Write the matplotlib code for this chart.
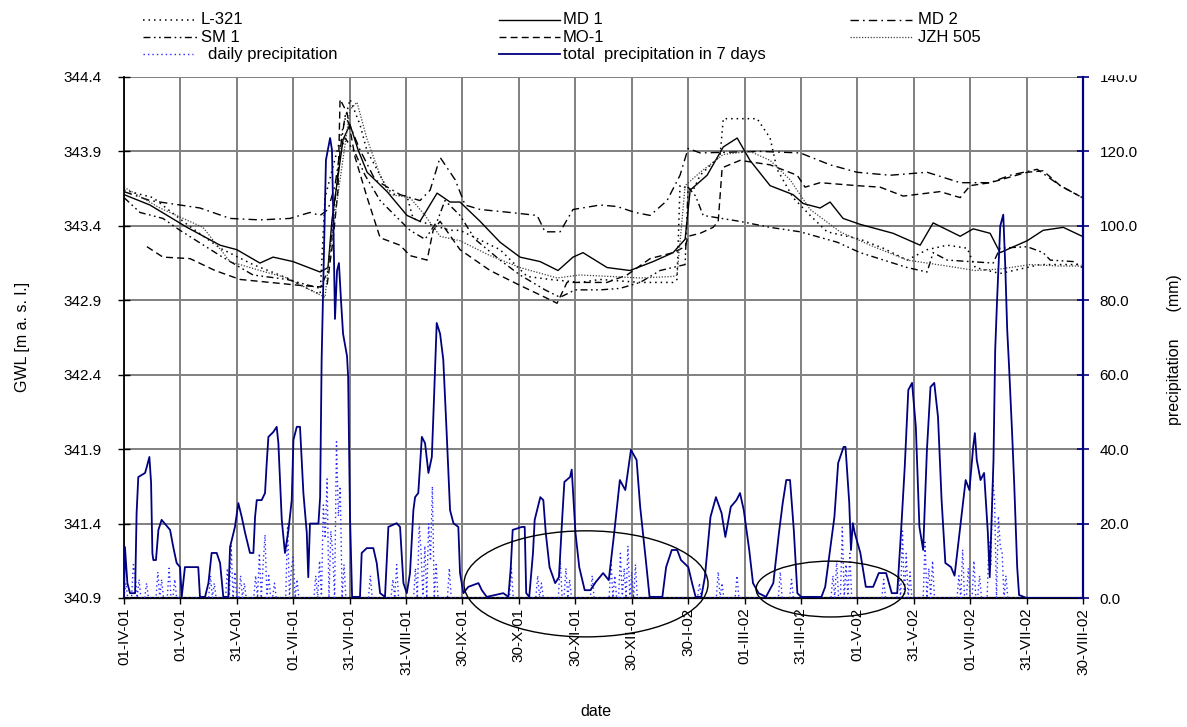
import matplotlib
matplotlib.use("Agg")
import matplotlib.pyplot as plt
import numpy as np
from matplotlib.lines import Line2D
from matplotlib.patches import Ellipse, Rectangle

plt.rcParams["font.family"] = ["Liberation Sans", "DejaVu Sans"]

W, H = 1187, 727
FS = 11

# x axis: days since 01-IV-01, one labelled tick every 30 days
date_labels = ["01-IV-01", "01-V-01", "31-V-01", "01-VII-01", "31-VII-01", "31-VIII-01",
               "30-IX-01", "30-X-01", "30-XI-01", "30-XII-01", "30-I-02", "01-III-02",
               "31-III-02", "01-V-02", "31-V-02", "01-VII-02", "31-VII-02", "30-VIII-02"]
gwl_ticks = [340.9, 341.4, 341.9, 342.4, 342.9, 343.4, 343.9, 344.4]
precip_ticks = [0, 20, 40, 60, 80, 100, 120, 140]

# groundwater levels (day, m a.s.l.)
L321 = [(0, 343.64), (15.4, 343.59), (33.5, 343.41), (51.1, 343.25), (68.6, 343.14), (86.7, 343.05),
        (97.3, 342.98), (104.3, 342.94), (106.9, 343.59), (114.9, 343.98), (120.2, 344.25),
        (125.5, 344.08), (129.3, 343.90), (132.4, 343.83), (139.9, 343.65), (144, 343.61),
        (150.5, 343.60), (153.7, 343.45), (157.4, 343.43), (173.4, 343.37), (178.7, 343.37),
        (200, 343.24), (214.4, 343.06), (226.6, 343.04), (242.5, 343.02), (253.2, 343.04),
        (274.5, 343.02), (292, 343.02), (294.1, 343.04), (295.7, 343.67), (302.7, 343.64),
        (306.4, 343.74), (317, 343.87), (318.7, 344.12), (336.7, 344.12), (343.6, 343.99),
        (347.3, 343.78), (355.8, 343.59), (364.9, 343.47), (373.9, 343.36), (391.5, 343.31),
        (403.7, 343.25), (416.5, 343.17), (427.1, 343.24), (437.8, 343.27), (448.4, 343.25),
        (452.7, 343.12), (465.9, 343.08), (487.2, 343.14), (509.6, 343.14)]

SM1 = [(0, 343.59), (8.5, 343.49), (20.7, 343.45), (29.8, 343.37), (51.1, 343.20), (68.6, 343.07),
       (86.7, 343.04), (104.3, 342.98), (108.5, 343.10), (112.2, 343.57), (114.9, 343.90),
       (117.6, 343.99), (122.9, 343.89), (128.2, 343.74), (136.2, 343.57), (144.1, 343.47),
       (152.1, 343.37), (160.1, 343.31), (166.5, 343.43), (170.7, 343.57), (178.7, 343.47),
       (186.7, 343.31), (200, 343.17), (210.6, 343.07), (223.9, 342.97), (231.9, 342.92),
       (239.9, 342.97), (253.2, 342.97), (263.8, 342.98), (274.5, 343.02), (285.1, 343.10),
       (298.4, 343.14), (300, 343.66), (304, 343.60), (308, 343.47), (327.6, 343.43),
       (343.6, 343.39), (359.6, 343.36), (379.3, 343.29), (391.5, 343.22), (416.5, 343.12),
       (427.1, 343.09), (430.3, 343.22), (437.8, 343.17), (462.2, 343.15), (465.9, 343.25),
       (480.3, 343.26), (488.8, 343.22), (492.6, 343.17), (504.8, 343.16), (509.6, 343.12)]

MD1 = [(0, 343.61), (13.8, 343.54), (33.5, 343.39), (51.1, 343.27), (60, 343.24), (72.3, 343.15),
       (79.3, 343.19), (89.9, 343.16), (104.3, 343.09), (108.5, 343.12), (110.6, 343.44),
       (116.5, 343.98), (120.2, 344.08), (124.5, 343.91), (129.3, 343.76), (139.9, 343.63),
       (150.5, 343.47), (157.4, 343.43), (166.5, 343.62), (173.4, 343.56), (178.7, 343.56),
       (189.4, 343.43), (200, 343.29), (210.6, 343.19), (221.3, 343.16), (230.8, 343.10),
       (238.8, 343.19), (244.1, 343.22), (256.9, 343.12), (269.1, 343.10), (281.4, 343.16),
       (292, 343.22), (298.4, 343.31), (301.1, 343.64), (310.1, 343.74), (318.7, 343.93),
       (326.1, 343.99), (332.9, 343.84), (343.6, 343.67), (355.8, 343.61), (361.2, 343.55),
       (370.2, 343.52), (375.5, 343.56), (382.4, 343.45), (391.5, 343.41), (409, 343.35),
       (423.4, 343.27), (430.3, 343.42), (444.7, 343.33), (451.6, 343.38), (460.6, 343.35),
       (465.9, 343.22), (480.3, 343.30), (488.8, 343.37), (499.5, 343.39), (509.6, 343.33)]

MO1 = [(12.2, 343.26), (20.7, 343.19), (35.1, 343.18), (48.4, 343.10), (61.7, 343.04), (77.7, 343.02),
       (93.6, 343.00), (104.3, 342.99), (108, 343.00), (111.2, 343.31), (113.8, 343.64),
       (114.9, 344.25), (118.6, 344.16), (122.9, 343.86), (129.3, 343.59), (136.2, 343.32),
       (146.8, 343.27), (152.1, 343.20), (161.2, 343.17), (164.4, 343.37), (168.1, 343.43),
       (178.7, 343.24), (194.7, 343.10), (210.6, 343.00), (223.9, 342.92), (230.3, 342.88),
       (235.6, 343.02), (256.9, 343.02), (267.5, 343.07), (279.8, 343.18), (292, 343.22),
       (298.4, 343.26), (300, 343.33), (306.4, 343.35), (313.3, 343.39), (316, 343.43),
       (318.1, 343.79), (327.6, 343.84), (343.6, 343.81), (358, 343.74), (362.2, 343.66),
       (370.2, 343.69), (389.9, 343.67), (402.1, 343.66), (414.4, 343.60), (434, 343.63),
       (444.7, 343.59), (450, 343.67), (460.6, 343.69), (480.3, 343.76), (488.8, 343.77),
       (497.9, 343.67), (509.6, 343.59)]

MD2 = [(0, 343.63), (13.8, 343.57), (29.8, 343.54), (40.4, 343.52), (56.4, 343.45), (72.3, 343.44),
       (88.3, 343.45), (98.9, 343.49), (104.3, 343.47), (108.5, 343.51), (112.2, 343.67),
       (117.6, 344.14), (121.3, 344.04), (125.5, 343.91), (133.5, 343.71), (146.8, 343.61),
       (157.4, 343.57), (162.8, 343.64), (168.1, 343.86), (176.1, 343.71), (181.4, 343.54),
       (189.4, 343.51), (205.3, 343.49), (219.7, 343.47), (223.9, 343.36), (231.9, 343.36),
       (238.8, 343.51), (253.2, 343.54), (262.2, 343.53), (271.8, 343.49), (279.8, 343.47),
       (288.8, 343.57), (295.7, 343.74), (300, 343.92), (306.4, 343.89), (338.3, 343.90),
       (359.6, 343.89), (375.5, 343.81), (389.9, 343.76), (407.4, 343.74), (427.1, 343.76),
       (444.7, 343.69), (460.6, 343.69), (471.3, 343.74), (485.6, 343.78), (497.9, 343.67),
       (509.6, 343.59)]

JZH505 = [(0, 343.66), (19.1, 343.52), (42, 343.39), (56.4, 343.16), (72.3, 343.10), (86.7, 343.05),
          (98.9, 342.97), (106.9, 342.92), (109.6, 343.24), (114.9, 343.71), (120.2, 344.18),
          (123.9, 344.23), (129.3, 343.98), (136.2, 343.74), (141.5, 343.61), (152.1, 343.59),
          (160.1, 343.47), (168.1, 343.33), (178.7, 343.30), (194.7, 343.20), (210.6, 343.12),
          (230.3, 343.05), (242.5, 343.07), (258.5, 343.06), (274.5, 343.05), (292, 343.06),
          (294.1, 343.07), (295.7, 343.29), (298.4, 343.67), (306.4, 343.76), (318.7, 343.88),
          (332.9, 343.90), (343.6, 343.84), (354.2, 343.71), (364.9, 343.51), (380.8, 343.36),
          (396.8, 343.27), (416.5, 343.17), (427.1, 343.15), (437.8, 343.13), (452.7, 343.10),
          (465.9, 343.11), (481.9, 343.14), (497.9, 343.13), (509.6, 343.13)]

# precipitation (mm): rainy days and the 7-day running total
DAILY_RAIN = [(1, 4), (5, 9), (6, 6), (8, 5), (12, 4), (18, 7), (20, 5), (24, 8), (27, 5), (46, 6),
              (48, 4), (55, 8), (57, 14), (59, 7), (62, 6), (64, 4), (70, 6), (72, 12), (74, 9),
              (75, 17), (77, 6), (80, 4), (87, 20), (89, 8), (90, 11), (92, 5), (102, 6), (104, 10),
              (106, 25), (107, 16), (108, 32), (110, 18), (111, 12), (113, 42), (114, 22), (115, 30),
              (117, 9), (131, 6), (143, 5), (145, 9), (155, 8), (157, 20), (158, 12), (160, 14),
              (162, 20), (163, 10), (164, 30), (166, 9), (173, 8), (206, 8), (220, 6), (222, 4),
              (232, 10), (235, 8), (237, 5), (249, 6), (259, 10), (261, 6), (264, 12), (266, 8),
              (268, 14), (270, 7), (272, 9), (306, 4), (316, 7), (318, 4), (326, 6), (349, 7),
              (355, 5), (377, 6), (379, 10), (382, 19), (384, 9), (386, 12), (404, 5), (412, 6),
              (414, 18), (416, 12), (418, 7), (426, 15), (428, 8), (430, 10), (444, 6), (446, 13),
              (449, 8), (452, 10), (455, 6), (460, 15), (461, 9), (462, 32), (463, 26), (465, 22),
              (466, 14), (467, 12), (469, 6)]

TOTAL_7D = [(0, 0), (0.5, 13.7), (1.8, 4.0), (3.2, 1.3), (5.9, 1.3), (6.7, 22.8), (7.6, 32.5),
            (11.2, 33.6), (12.1, 35.2), (13.5, 37.9), (14.4, 31.0), (15.1, 12.0), (15.6, 10.2),
            (17.0, 10.2), (18.3, 18.3), (20.0, 21.0), (24.5, 18.3), (26.2, 13.7), (28.0, 9.4),
            (29.8, 8.3), (30.7, 0.3), (32.4, 8.3), (39.5, 8.3), (40.4, 0.3), (43.1, 0.3), (44.9, 4.0),
            (46.6, 12.1), (49.3, 12.1), (51.1, 9.4), (52.8, 0.3), (55.5, 0.3), (56.4, 13.7),
            (59.0, 19.1), (60.8, 25.5), (62.6, 21.8), (64.4, 17.5), (67.0, 12.1), (68.8, 12.1),
            (69.7, 21.8), (70.6, 26.3), (73.2, 26.3), (75.0, 28.2), (75.9, 36.3), (76.8, 43.3),
            (79.4, 44.6), (81.2, 46.0), (82.1, 41.6), (83.9, 21.0), (85.6, 12.1), (87.4, 18.0),
            (89.2, 26.3), (90.1, 42.5), (91.9, 46.0), (93.6, 46.0), (94.5, 37.1), (95.4, 28.2),
            (97.2, 17.5), (98.0, 5.6), (98.9, 20.0), (103.4, 20.0), (104.3, 27.1), (105.1, 64.0),
            (105.8, 80.0), (107.4, 117.7), (109.6, 123.6), (110.6, 120.4), (111.2, 105.0),
            (111.7, 90.0), (112.2, 75.0), (113.3, 88.0), (114.3, 90.0), (115.4, 80.0), (116.5, 71.0),
            (118.6, 65.0), (119.2, 59.4), (120.2, 21.8), (121.3, 0.3), (125.5, 0.3), (126.4, 12.1),
            (129.1, 13.4), (132.6, 13.4), (134.4, 9.4), (136.2, 1.3), (138.8, 0.3), (140.6, 19.1),
            (145.0, 20.1), (146.8, 19.1), (148.6, 4.0), (150.4, 1.3), (152.1, 6.7), (153.9, 23.6),
            (154.8, 27.1), (156.5, 28.2), (158.4, 43.3), (160.1, 41.6), (161.9, 33.6), (163.7, 37.9),
            (164.5, 48.6), (166.3, 73.9), (168.1, 71.0), (169.8, 64.0), (171.6, 44.3), (173.4, 23.6),
            (175.2, 20.1), (177.8, 19.1), (178.7, 6.7), (180.5, 1.3), (183.1, 3.0), (188.5, 4.0),
            (190.3, 2.1), (192.9, 0.3), (201.7, 1.3), (204.4, 0.3), (205.7, 8.3), (206.7, 18.3),
            (211.6, 19.1), (213.1, 19.1), (213.9, 1.3), (215.5, 0.3), (217.5, 12.1), (218.4, 21.0),
            (221.4, 27.1), (223.0, 26.3), (224.3, 17.5), (226.3, 8.3), (229.3, 4.0), (231.3, 5.6),
            (233.2, 22.8), (234.2, 31.2), (237.2, 32.5), (238.1, 34.5), (240.1, 17.5), (242.1, 8.3),
            (245.0, 2.1), (248.0, 2.1), (250.9, 4.3), (254.8, 6.7), (257.8, 4.8), (260.7, 17.5),
            (263.7, 31.7), (266.6, 29.0), (269.6, 39.8), (272.6, 37.1), (274.5, 24.5), (277.5, 10.2),
            (279.5, 0.3), (286.3, 0.3), (288.3, 8.3), (291.3, 12.9), (294.2, 12.9), (296.2, 10.2),
            (300.1, 8.3), (302.1, 4.0), (304.0, 0.3), (307.0, 0.3), (308.9, 5.6), (311.9, 21.8),
            (314.8, 27.1), (317.8, 22.8), (319.8, 16.4), (322.7, 24.5), (325.7, 26.3), (327.6, 28.2),
            (329.6, 23.6), (332.5, 12.9), (334.5, 4.0), (337.5, 1.3), (341.4, 0.3), (345.3, 4.0),
            (348.3, 17.5), (350.3, 25.5), (352.2, 31.7), (354.2, 31.7), (356.2, 18.3), (358.1, 1.3),
            (360.1, 0.3), (370.9, 0.3), (372.9, 3.0), (377.8, 21.8), (379.8, 36.3), (382.7, 40.6),
            (383.7, 40.6), (385.7, 25.5), (386.6, 12.9), (387.6, 20.1), (388.6, 17.5), (391.6, 12.1),
            (394.5, 3.0), (398.4, 3.0), (401.4, 6.7), (405.3, 6.7), (408.3, 1.3), (411.2, 1.3),
            (413.2, 17.5), (415.2, 35.2), (417.1, 55.9), (419.1, 57.8), (421.1, 46.0), (423.0, 19.1),
            (425.0, 12.9), (427.0, 39.8), (428.9, 56.7), (430.9, 57.8), (432.9, 48.6), (434.8, 26.3),
            (436.8, 9.4), (439.8, 8.3), (441.7, 6.0), (444.7, 19.1), (447.6, 31.7), (449.6, 29.0),
            (451.6, 40.6), (452.5, 44.3), (453.5, 37.1), (455.5, 31.7), (457.4, 33.6), (459.4, 17.5),
            (460.4, 5.6), (462.4, 37.1), (463.3, 66.6), (464.3, 80.0), (466.0, 100.0), (467.6, 103.0),
            (468.6, 90.0), (469.7, 72.0), (470.7, 62.0), (472.3, 44.3), (473.4, 30.9), (475.0, 8.3),
            (476.0, 0.8), (480.0, 0.0), (510.0, 0.0)]

STYLE = {
    "L-321": dict(color="black", lw=1.1, ls=(0, (1.0, 2.6))),
    "SM 1": dict(color="black", lw=1.0, ls=(0, (5, 2.5, 1.2, 2.5, 1.2, 2.5))),
    "MD 1": dict(color="black", lw=1.0, ls="-"),
    "MO-1": dict(color="black", lw=1.0, ls=(0, (5, 3))),
    "MD 2": dict(color="black", lw=1.0, ls=(0, (6, 3, 1.2, 3))),
    "JZH 505": dict(color="#404040", lw=0.9, ls=(0, (1.0, 1.3))),
}
DAILY_STYLE = dict(color="#2a2aff", lw=1.0, ls=(0, (1.0, 2.2)))
TOTAL_STYLE = dict(color="#000080", lw=1.3, ls="-")

fig = plt.figure(figsize=(W / 100, H / 100), dpi=100)
ax = fig.add_axes([124 / W, 1 - 598 / H, (1083 - 124) / W, (598 - 77) / H])
ax2 = ax.twinx()

series = [("L-321", L321), ("SM 1", SM1), ("MD 1", MD1), ("MO-1", MO1), ("MD 2", MD2), ("JZH 505", JZH505)]
for name, pts in series:
    d, v = zip(*pts)
    ax.plot(d, v, **STYLE[name])

days = np.arange(511)
rain = np.zeros(len(days))
for d, v in DAILY_RAIN:
    rain[d] = v
ax2.plot(days, rain, **DAILY_STYLE)
td, tv = zip(*TOTAL_7D)
ax2.plot(td, tv, **TOTAL_STYLE)

# the two hand-drawn ellipses
for (cx, cy, w, h) in [(245.7, 3.8, 129.8, 28.5), (375.8, 2.4, 79.3, 15.0)]:
    ax2.add_patch(Ellipse((cx, cy), w, h, fill=False, ec="black", lw=1.0, clip_on=False, zorder=5))

ax.set_xlim(0, 510)
ax.set_ylim(340.9, 344.4)
ax2.set_ylim(0, 140)
ax.set_xticks([30 * i for i in range(len(date_labels))])
ax.set_xticklabels(date_labels, rotation=90)
ax.set_yticks(gwl_ticks)
ax.set_yticklabels([f"{t:.1f}" for t in gwl_ticks])
ax2.set_yticks(precip_ticks)
ax2.set_yticklabels([f"{t:.1f}" for t in precip_ticks])

ax.grid(True, color="#808080", lw=1.4)
ax.set_axisbelow(True)
for s in ["top", "right"]:
    ax.spines[s].set_visible(False)
for s in ["top", "left", "bottom"]:
    ax2.spines[s].set_visible(False)
ax.spines["left"].set_linewidth(1.3)
ax.spines["bottom"].set_linewidth(1.6)
ax2.spines["right"].set_color("#000080")
ax2.spines["right"].set_linewidth(1.6)

ax.tick_params(axis="y", direction="inout", length=8, width=1, pad=12, labelsize=FS)
ax.tick_params(axis="x", direction="out", length=4, width=1, pad=3, labelsize=FS)
ax2.tick_params(axis="y", direction="inout", length=8, width=1.2, color="#000080", pad=8, labelsize=FS)

fig.text(23 / W, 1 - 337 / H, "GWL [m a. s. l.]", rotation=90, ha="center", va="center", fontsize=FS + 0.5)
fig.text(1175 / W, 1 - 350 / H, "precipitation      (mm)", rotation=90, ha="center", va="center",
         fontsize=FS + 0.5)
fig.text(596 / W, 1 - 712 / H, "date", ha="center", va="center", fontsize=FS + 0.5)

# legend drawn by hand in three columns
legend_items = [
    ("L-321", STYLE["L-321"], 143, 198, 201, 20),
    ("SM 1", STYLE["SM 1"], 143, 198, 201, 37),
    ("daily precipitation", DAILY_STYLE, 143, 193, 208, 54),
    ("MD 1", STYLE["MD 1"], 499, 560, 563, 20),
    ("MO-1", STYLE["MO-1"], 499, 560, 563, 37),
    ("total  precipitation in 7 days", TOTAL_STYLE, 499, 560, 563, 54),
    ("MD 2", STYLE["MD 2"], 850, 912, 918, 20),
    ("JZH 505", STYLE["JZH 505"], 850, 912, 918, 37),
]
for label, st, x0, x1, xt, y in legend_items:
    fig.add_artist(Line2D([x0 / W, x1 / W], [1 - y / H, 1 - y / H], transform=fig.transFigure, **st))
    fig.text(xt / W, 1 - y / H, label, ha="left", va="center", fontsize=FS + 1)

# the legend box hides the top half of the "140.0" label in the original
fig.add_artist(Rectangle((1088 / W, 1 - 74 / H), (W - 1088) / W, 74 / H, transform=fig.transFigure,
                         color="white", zorder=10))

fig.savefig("out.png", dpi=100)
